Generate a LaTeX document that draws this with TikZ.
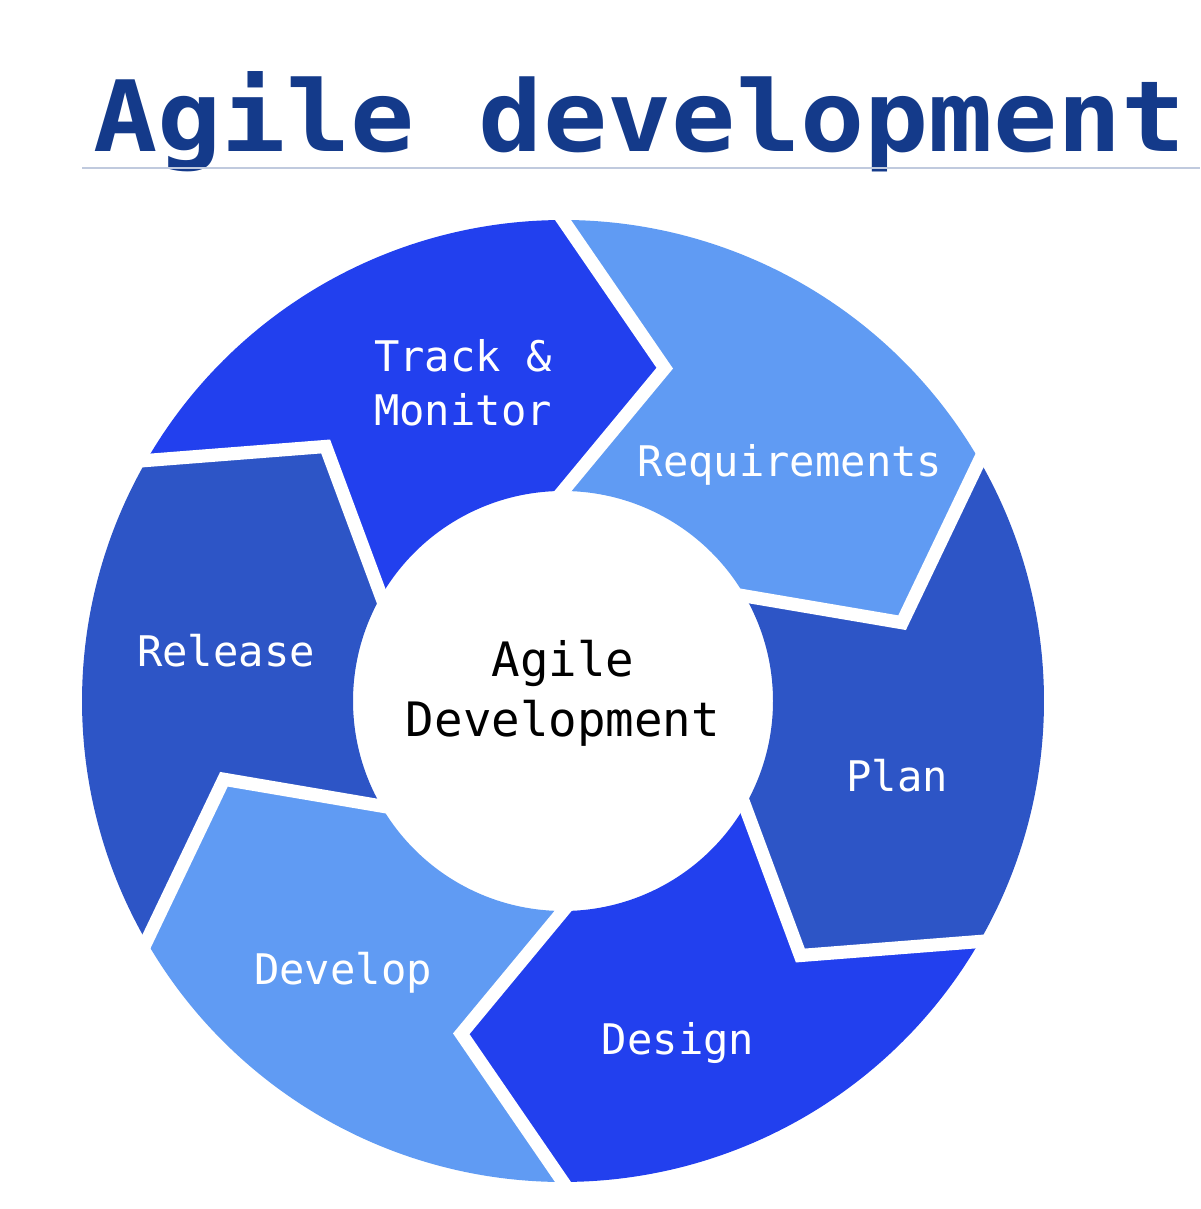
\documentclass[tikz,border=0pt]{standalone}
\usepackage{fontspec}
\setmonofont{DejaVu Sans Mono}
\usetikzlibrary{calc}
\definecolor{titleblue}{RGB}{20,58,138}
\definecolor{rulegray}{RGB}{192,202,222}
\definecolor{vividblue}{RGB}{34,64,238}
\definecolor{paleblue}{RGB}{96,155,243}
\definecolor{midblue}{RGB}{45,85,198}
\begin{document}
\begin{tikzpicture}[x=0.02cm,y=0.02cm,
  seglabel/.style={text=white,font=\ttfamily\fontsize{24}{31}\selectfont,align=center,inner sep=0pt},
  corelabel/.style={text=black,font=\ttfamily\fontsize{27}{34}\selectfont,align=center,inner sep=0pt},
  gapline/.style={white,line width=7.5pt,line join=miter}]
\useasboundingbox (0,0) rectangle (1200,1209);

% title and rule
\node[anchor=base west,inner sep=0pt,text=titleblue,font=\ttfamily\bfseries\fontsize{56}{56}\selectfont] (title) at (93,1057) {\scalebox{1.085}[1]{Agile development}};
\coordinate (ruleL) at (82,1041);
\coordinate (ruleR) at (1200,1041);
\draw[rulegray,line width=1.2pt] (ruleL) -- (ruleR);

% ring geometry: boundary i sits at angle 90-60i, its chevron tip is turned 17 degrees clockwise
\coordinate (C) at (563,508);
\def\Rout{9.62cm}
\def\Rin{4.2cm}
\foreach \i in {0,...,6}{
  \pgfmathsetmacro\ang{90-60*\i}
  \pgfmathsetmacro\tang{\ang-17}
  \coordinate (O\i) at ($(C)+(\ang:481)$);
  \coordinate (T\i) at ($(C)+(\tang:348)$);
  \coordinate (I\i) at ($(C)+(\ang:210)$);
}

% segments, clockwise from the top
\foreach \k/\col in {0/paleblue,1/midblue,2/vividblue,3/paleblue,4/midblue,5/vividblue}{
  \pgfmathtruncatemacro\n{\k+1}
  \pgfmathsetmacro\a{90-60*\k}
  \pgfmathsetmacro\b{\a-60}
  \fill[\col] (O\k) arc[start angle=\a,end angle=\b,radius=\Rout]
    -- (T\n) -- (I\n) arc[start angle=\b,end angle=\a,radius=\Rin]
    -- (T\k) -- cycle;
}

% white gaps along the chevron boundaries
\foreach \i in {0,...,5}{
  \draw[gapline] ($(T\i)!1.1!(O\i)$) -- (T\i) -- ($(T\i)!1.12!(I\i)$);
}

% labels
\node[corelabel] (core) at (563,516) {Agile\\Development};
\node[seglabel] (track) at (463,826) {Track \&\\Monitor};
\node[seglabel] (req) at (790,744) {Requirements};
\node[seglabel] (plan) at (897,433) {Plan};
\node[seglabel] (design) at (678,166) {Design};
\node[seglabel] (develop) at (343,236) {Develop};
\node[seglabel] (release) at (226,558) {Release};
\end{tikzpicture}
\end{document}
